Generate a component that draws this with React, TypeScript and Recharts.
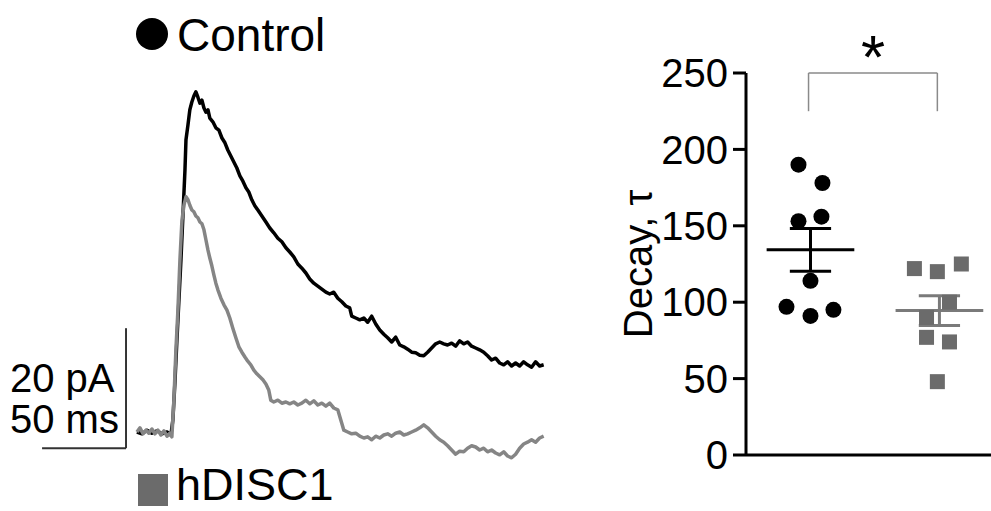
import React from 'react';
import {
  LineChart,
  Line,
  ScatterChart,
  Scatter,
  XAxis,
  YAxis,
  ReferenceLine,
  ReferenceDot,
} from 'recharts';

// ---- Left panel: EPSC traces (time in ms, amplitude in pA) ----
const controlTrace: number[][] = [
  [0, 0], [3.0, -0.3], [6.0, 0.3], [8.9, -0.2], [11.9, 0.2], [14.9, -0.3], [17.9, 0], [20.2, -0.5],
  [21.4, 2.0], [22.6, 8.2], [23.8, 15.3], [25.0, 22.0], [26.2, 28.7], [27.4, 36.2], [28.6, 43.7],
  [29.2, 48.7], [30.4, 51.2], [31.5, 53.7], [32.7, 55.0], [33.9, 56.0], [35.1, 56.7], [36.3, 55.8],
  [37.5, 54.8], [38.7, 55.3], [39.9, 54.0], [41.1, 53.3], [42.3, 53.7], [43.4, 52.3], [45.2, 51.7],
  [47.0, 50.7], [48.8, 50.3], [50.6, 49.0], [52.4, 48.2], [54.1, 47.0], [55.9, 46.0], [57.7, 45.0],
  [59.5, 44.0], [61.3, 42.7], [63.1, 41.8], [64.9, 40.7], [66.6, 40.0], [68.4, 38.7], [70.2, 37.7],
  [72.0, 37.0], [74.4, 36.0], [76.8, 35.0], [79.1, 34.0], [81.5, 33.2], [83.9, 32.3], [86.3, 31.7],
  [88.7, 30.7], [91.0, 30.0], [93.4, 29.2], [95.8, 28.0], [98.2, 27.3], [100.6, 26.5], [102.9, 25.5],
  [105.3, 24.8], [107.7, 24.3], [110.1, 23.8], [112.5, 23.3], [114.8, 23.0], [117.2, 23.3], [119.6, 22.3],
  [122.0, 21.7], [124.4, 21.0], [126.7, 20.7], [127.9, 19.3], [130.3, 19.0], [132.7, 18.7], [135.1, 19.0],
  [137.4, 18.3], [139.8, 19.3], [142.2, 18.0], [144.6, 17.0], [147.0, 16.3], [149.3, 15.7], [151.7, 15.0],
  [154.1, 15.8], [156.5, 14.5], [158.9, 14.2], [161.2, 13.8], [163.6, 13.3], [166.0, 13.2], [168.4, 12.8],
  [170.8, 12.7], [173.1, 13.3], [175.5, 14.0], [177.9, 14.7], [180.3, 15.0], [182.7, 14.7], [185.0, 14.5],
  [187.4, 14.8], [189.8, 14.3], [192.2, 15.2], [194.6, 14.7], [196.9, 15.0], [199.3, 14.3], [201.7, 14.0],
  [204.1, 13.7], [206.5, 13.3], [208.8, 12.7], [211.2, 12.0], [213.6, 12.3], [216.0, 11.5], [218.4, 11.2],
  [220.7, 11.7], [223.1, 11.0], [225.5, 11.5], [227.9, 11.0], [230.3, 11.7], [232.6, 11.2], [235.0, 10.8],
  [237.4, 11.7], [239.8, 11.0], [242.2, 11.2],
];

const hdiscTrace: number[][] = [
  [0, 0], [1.8, 0.7], [3.6, -0.3], [5.4, 0.3], [7.1, -0.2], [8.9, 0.5], [10.7, -0.3], [12.5, 0.3],
  [14.3, -0.5], [16.1, 0.2], [17.9, -0.7], [19.6, -0.2], [20.8, -0.8], [22.0, 5.3], [23.2, 13.7],
  [24.4, 20.3], [25.6, 28.7], [26.8, 35.3], [28.0, 37.8], [29.2, 39.2], [30.4, 38.7], [31.5, 37.8],
  [32.7, 37.0], [33.9, 36.7], [35.1, 36.0], [36.3, 35.7], [37.5, 35.0], [38.7, 34.7], [39.9, 33.7],
  [41.1, 32.0], [42.3, 30.3], [43.4, 29.0], [44.6, 27.7], [45.8, 26.2], [47.0, 24.8], [48.2, 23.7],
  [50.0, 22.3], [51.8, 21.2], [53.6, 20.3], [55.3, 19.0], [57.1, 17.3], [58.9, 15.7], [60.7, 14.2],
  [62.5, 13.3], [64.3, 12.5], [66.0, 11.8], [67.8, 11.2], [69.6, 10.3], [71.4, 9.7], [73.2, 9.2],
  [75.0, 8.7], [76.8, 8.0], [78.5, 7.0], [79.7, 5.3], [81.5, 5.0], [83.9, 5.3], [86.3, 4.8], [88.7, 5.0],
  [91.0, 4.7], [93.4, 5.0], [95.8, 4.5], [98.2, 4.8], [100.6, 5.3], [102.9, 4.7], [105.3, 5.2],
  [107.7, 4.5], [110.1, 4.8], [112.5, 4.3], [114.8, 4.8], [117.2, 4.0], [119.6, 3.7], [121.4, 2.0],
  [123.2, 0.3], [125.5, 0], [127.9, -0.3], [130.3, -0.2], [132.7, -0.7], [135.1, -1.0], [137.4, -0.8],
  [139.8, -1.3], [142.2, -0.7], [144.6, -1.0], [147.0, -0.5], [149.3, -0.3], [151.7, -0.7], [154.1, -0.2],
  [156.5, 0], [158.9, -0.5], [161.2, -0.3], [163.6, 0], [166.0, 0.3], [168.4, 0.7], [170.8, 1.2],
  [173.1, 0.7], [175.5, 0], [177.9, -0.7], [180.3, -1.3], [182.7, -1.7], [185.0, -2.3], [187.4, -3.0],
  [189.8, -3.7], [192.2, -3.2], [194.6, -3.3], [196.9, -2.7], [199.3, -2.3], [201.7, -2.5], [204.1, -3.0],
  [206.5, -2.7], [208.8, -3.3], [211.2, -3.0], [213.6, -3.5], [216.0, -3.8], [218.4, -3.3], [220.7, -4.0],
  [223.1, -4.3], [225.5, -3.7], [227.9, -2.7], [230.3, -2.0], [232.6, -1.7], [235.0, -1.3], [237.4, -1.7],
  [239.8, -1.0], [242.2, -0.7],
];

// scale bar: 20 pA, 50 ms
const scaleBarPA = 20;
const scaleBarMs = 50;
const scaleBarCorner = { t: -6.5, a: -2.7 };

// ---- Right panel: decay tau ----
const groups = ['Control', 'hDISC1'];
const controlDecay = [190, 178, 153, 156, 114, 97, 91, 95];
const controlX = [0.907, 1.093, 0.907, 1.085, 1.0, 0.814, 1.0, 1.178];
const hdiscDecay = [122, 120, 125, 100, 90, 77, 74, 48];
const hdiscX = [1.806, 1.984, 2.17, 2.078, 1.9, 1.9, 2.078, 1.984];
const yTicks = [0, 50, 100, 150, 200, 250];
const sigBracket = { from: 0.985, to: 1.984, top: 250, bottom: 225, label: '*', labelY: 261 };

const FONT = '"Liberation Sans", Arial, Helvetica, sans-serif';

const toPts = (arr: number[][]) => arr.map(([t, a]) => ({ t, a }));
const mean = (v: number[]) => v.reduce((s, x) => s + x, 0) / v.length;
const sem = (v: number[]) => {
  const m = mean(v);
  const sd = Math.sqrt(v.reduce((s, x) => s + (x - m) * (x - m), 0) / (v.length - 1));
  return sd / Math.sqrt(v.length);
};

export default function App() {
  const cData = controlDecay.map((y, i) => ({ x: controlX[i], y }));
  const hData = hdiscDecay.map((y, i) => ({ x: hdiscX[i], y }));
  const stats = [
    { c: 1, m: mean(controlDecay), s: sem(controlDecay), color: '#000' },
    { c: 2, m: mean(hdiscDecay), s: sem(hdiscDecay), color: '#7a7a7a' },
  ];
  const halfMean = 0.34;
  const halfCap = 0.16;

  return (
    <div style={{ position: 'absolute', left: 0, top: 0, width: 991, height: 511, background: '#fff', overflow: 'hidden' }}>
      <div style={{ position: 'absolute', left: 0, top: 0 }}>
        <LineChart width={560} height={511} margin={{ top: 72, right: 15, bottom: 19, left: 11 }}>
          <XAxis type="number" dataKey="t" domain={[-75, 243]} hide allowDataOverflow />
          <YAxis type="number" domain={[-10, 60]} hide allowDataOverflow />
          <Line
            data={toPts(controlTrace)}
            dataKey="a"
            stroke="#000"
            strokeWidth={3.5}
            dot={false}
            isAnimationActive={false}
            strokeLinejoin="round"
          />
          <Line
            data={toPts(hdiscTrace)}
            dataKey="a"
            stroke="#858585"
            strokeWidth={3.5}
            dot={false}
            isAnimationActive={false}
            strokeLinejoin="round"
          />
          <ReferenceLine
            segment={[
              { x: scaleBarCorner.t, y: scaleBarCorner.a },
              { x: scaleBarCorner.t, y: scaleBarCorner.a + scaleBarPA },
            ]}
            stroke="#333"
            strokeWidth={2}
            ifOverflow="visible"
          />
          <ReferenceLine
            segment={[
              { x: scaleBarCorner.t - scaleBarMs, y: scaleBarCorner.a },
              { x: scaleBarCorner.t, y: scaleBarCorner.a },
            ]}
            stroke="#333"
            strokeWidth={2}
            ifOverflow="visible"
          />
        </LineChart>
      </div>

      <div style={{ position: 'absolute', left: 600, top: 0 }}>
        <ScatterChart width={391} height={511} margin={{ top: 73, right: 0, bottom: 55, left: 0 }}>
          <XAxis
            type="number"
            dataKey="x"
            domain={[0.5, 2.4]}
            tick={false}
            tickLine={false}
            height={1}
            axisLine={{ stroke: '#000', strokeWidth: 3 }}
          />
          <YAxis
            type="number"
            dataKey="y"
            domain={[0, 250]}
            ticks={yTicks}
            width={146}
            tickSize={13}
            tickMargin={5}
            axisLine={{ stroke: '#000', strokeWidth: 3 }}
            tickLine={{ stroke: '#000', strokeWidth: 3 }}
            tick={{ fontSize: 40, fill: '#000', fontFamily: FONT }}
            label={{
              value: 'Decay, τ',
              angle: -90,
              position: 'insideLeft',
              offset: 38,
              style: { textAnchor: 'middle', fontSize: 40, fill: '#000', fontFamily: FONT },
            }}
          />
          <Scatter
            name={groups[0]}
            data={cData}
            isAnimationActive={false}
            shape={(p: any) => <circle cx={p.cx} cy={p.cy} r={8} fill="#000" />}
          />
          <Scatter
            name={groups[1]}
            data={hData}
            isAnimationActive={false}
            shape={(p: any) => <rect x={p.cx - 7.5} y={p.cy - 7.5} width={15} height={15} fill="#6b6b6b" />}
          />
          {stats.map((st) => (
            <ReferenceLine
              key={'m' + st.c}
              segment={[{ x: st.c - halfMean, y: st.m }, { x: st.c + halfMean, y: st.m }]}
              stroke={st.color}
              strokeWidth={3}
            />
          ))}
          {stats.map((st) => (
            <ReferenceLine
              key={'v' + st.c}
              segment={[{ x: st.c, y: st.m - st.s }, { x: st.c, y: st.m + st.s }]}
              stroke={st.color}
              strokeWidth={3}
            />
          ))}
          {stats.map((st) => (
            <ReferenceLine
              key={'u' + st.c}
              segment={[{ x: st.c - halfCap, y: st.m + st.s }, { x: st.c + halfCap, y: st.m + st.s }]}
              stroke={st.color}
              strokeWidth={3}
            />
          ))}
          {stats.map((st) => (
            <ReferenceLine
              key={'l' + st.c}
              segment={[{ x: st.c - halfCap, y: st.m - st.s }, { x: st.c + halfCap, y: st.m - st.s }]}
              stroke={st.color}
              strokeWidth={3}
            />
          ))}
          <ReferenceLine
            segment={[{ x: sigBracket.from, y: sigBracket.top }, { x: sigBracket.to, y: sigBracket.top }]}
            stroke="#8a8a8a"
            strokeWidth={1.5}
            ifOverflow="visible"
          />
          <ReferenceLine
            segment={[{ x: sigBracket.from, y: sigBracket.bottom }, { x: sigBracket.from, y: sigBracket.top }]}
            stroke="#8a8a8a"
            strokeWidth={1.5}
            ifOverflow="visible"
          />
          <ReferenceLine
            segment={[{ x: sigBracket.to, y: sigBracket.bottom }, { x: sigBracket.to, y: sigBracket.top }]}
            stroke="#8a8a8a"
            strokeWidth={1.5}
            ifOverflow="visible"
          />
          <ReferenceDot
            x={(sigBracket.from + sigBracket.to) / 2}
            y={sigBracket.labelY}
            r={0}
            fill="none"
            stroke="none"
            ifOverflow="visible"
            label={{ value: sigBracket.label, position: 'center', fontSize: 62, fill: '#000', fontFamily: FONT }}
          />
        </ScatterChart>
      </div>

      <svg
        width={991}
        height={511}
        style={{ position: 'absolute', left: 0, top: 0, pointerEvents: 'none' }}
        fontFamily={FONT}
      >
        <circle cx={152} cy={34} r={16} fill="#000" />
        <text x={177} y={51} fontSize={46} fill="#000">{groups[0]}</text>
        <rect x={138} y={474} width={30} height={32} fill="#6b6b6b" />
        <text x={176} y={500} fontSize={45} fill="#000">{groups[1]}</text>
        <text x={10} y={392} fontSize={40} fill="#000">{scaleBarPA} pA</text>
        <text x={10} y={433} fontSize={40} fill="#000">{scaleBarMs} ms</text>
      </svg>
    </div>
  );
}
